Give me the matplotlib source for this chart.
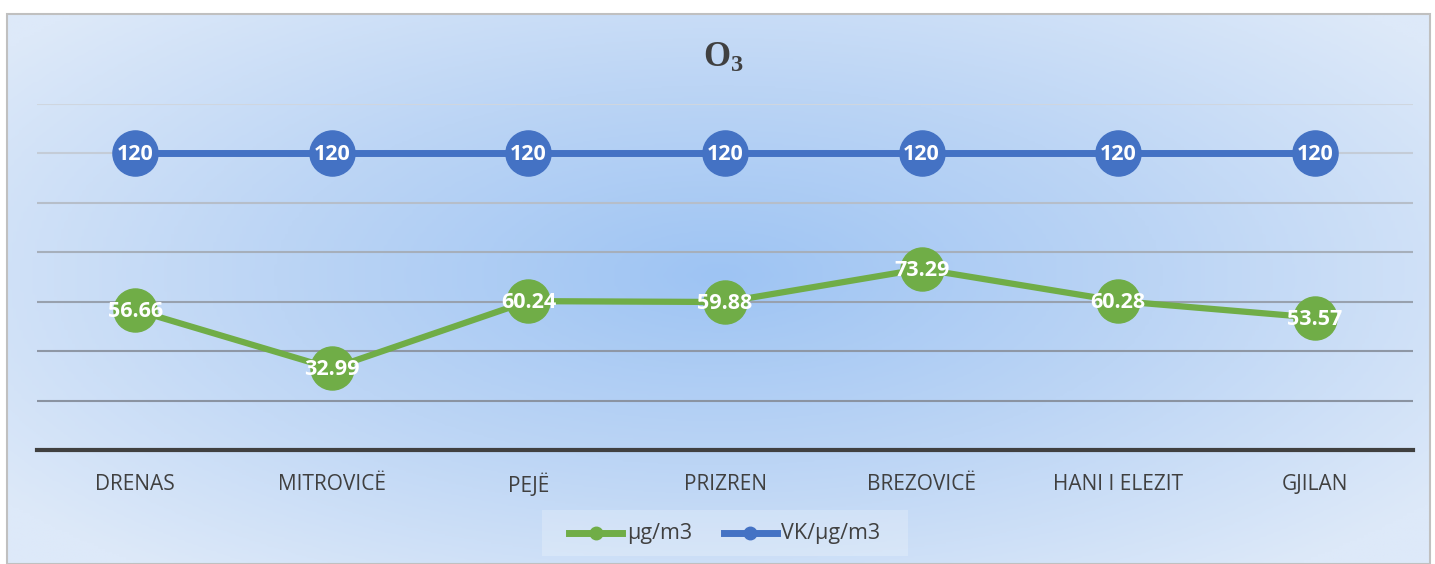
import numpy as np
import matplotlib
matplotlib.use("Agg")
from matplotlib import pyplot as plt
from matplotlib.colors import LinearSegmentedColormap
from matplotlib.patches import Rectangle

# data
cities = ["DRENAS", "MITROVICË", "PEJË", "PRIZREN", "BREZOVICË", "HANI I ELEZIT", "GJILAN"]
o3_values = [56.66, 32.99, 60.24, 59.88, 73.29, 60.28, 53.57]
limit_values = [120, 120, 120, 120, 120, 120, 120]
grid_levels = [20, 40, 60, 80, 100, 120, 140]

W, H = 1435, 564
fig = plt.figure(figsize=(W / 100, H / 100), dpi=100)
fig.patch.set_facecolor("white")

# background with radial gradient inside a frame
x0, y0, x1, y1 = 7, 14, 1430, 564
bg = fig.add_axes([x0 / W, 1 - y1 / H, (x1 - x0) / W, (y1 - y0) / H])
xx, yy = np.meshgrid(np.linspace(-1, 1, 400), np.linspace(-1, 1, 200))
r = np.sqrt((xx * 1.0) ** 2 + ((yy + 0.05) * 0.9) ** 2)
r = np.clip(r / 1.25, 0, 1)
cmap = LinearSegmentedColormap.from_list("bg", ["#9ec4f3", "#bcd5f5", "#dde9f9"])
bg.imshow(r, cmap=cmap, aspect="auto", extent=[0, 1, 0, 1], vmin=0, vmax=1)
bg.set_xlim(0, 1)
bg.set_ylim(0, 1)
bg.axis("off")
fig.patches.append(Rectangle((x0 / W, 1 - y1 / H), (x1 - x0) / W, (y1 - y0) / H,
                             transform=fig.transFigure, fill=False,
                             edgecolor="#c0c0c0", linewidth=1.5, zorder=5))

# main axes
ax = fig.add_axes([37 / W, 1 - 450 / H, (1413 - 37) / W, (450 - 104) / H])
ax.patch.set_alpha(0)
x = np.arange(len(cities))
ax.set_xlim(-0.5, len(cities) - 0.5)
ax.set_ylim(0, 140)

grid_colors = ["#8a93a1", "#8e97a5", "#98a1ae", "#a6afbb", "#b6bec9", "#c4ccd7", "#cfd6df"]
for lvl, c in zip(grid_levels, grid_colors):
    ax.axhline(lvl, color=c, linewidth=1.5, zorder=1)
ax.axhline(0, color="#404040", linewidth=3, zorder=2, clip_on=False)

for s in ax.spines.values():
    s.set_visible(False)
ax.set_yticks([])
ax.set_xticks(x)
ax.set_xticklabels(cities, fontsize=15, color="#404040", fontfamily="Open Sans")
ax.tick_params(axis="x", length=0, pad=17)

green = "#70ad47"
blue = "#4472c4"
ax.plot(x, o3_values, color=green, linewidth=4.5, marker="o", markersize=31,
        zorder=3)
ax.plot(x, limit_values, color=blue, linewidth=5, marker="o", markersize=32.5,
        zorder=3)

for xi, v in zip(x, o3_values):
    ax.text(xi, v - 0.6, f"{v:.2f}", ha="center", va="center", color="white",
            fontsize=15.5, fontweight="bold", fontfamily="Open Sans", zorder=4)
for xi, v in zip(x, limit_values):
    ax.text(xi, v - 0.6, f"{v}", ha="center", va="center", color="white",
            fontsize=15.5, fontweight="bold", fontfamily="Open Sans", zorder=4)

# title
plt.rcParams["mathtext.fontset"] = "custom"
plt.rcParams["mathtext.bf"] = "Liberation Serif:bold"
plt.rcParams["mathtext.rm"] = "Liberation Serif"
fig.text(723 / W, 1 - 57 / H, r"$\mathbf{O_3}$", ha="center", va="center",
         fontsize=25, color="#404040")

# legend
leg_ax = fig.add_axes([542 / W, 1 - 556 / H, (908 - 542) / W, (556 - 510) / H])
leg_ax.set_xlim(542, 908)
leg_ax.set_ylim(556, 510)
leg_ax.add_patch(Rectangle((542, 510), 366, 46, facecolor="white", alpha=0.22,
                           edgecolor="none"))
leg_ax.plot([569, 622], [533, 533], color=green, linewidth=5)
leg_ax.plot([596], [533], "o", color=green, markersize=9)
leg_ax.text(627, 534, "µg/m3", va="center", ha="left", fontsize=15.5,
            color="#404040", fontfamily="Open Sans")
leg_ax.plot([724, 777], [533, 533], color=blue, linewidth=5)
leg_ax.plot([750], [533], "o", color=blue, markersize=9)
leg_ax.text(781, 534, "VK/µg/m3", va="center", ha="left", fontsize=15.5,
            color="#404040", fontfamily="Open Sans")
leg_ax.axis("off")

fig.savefig("out.png", dpi=100)
